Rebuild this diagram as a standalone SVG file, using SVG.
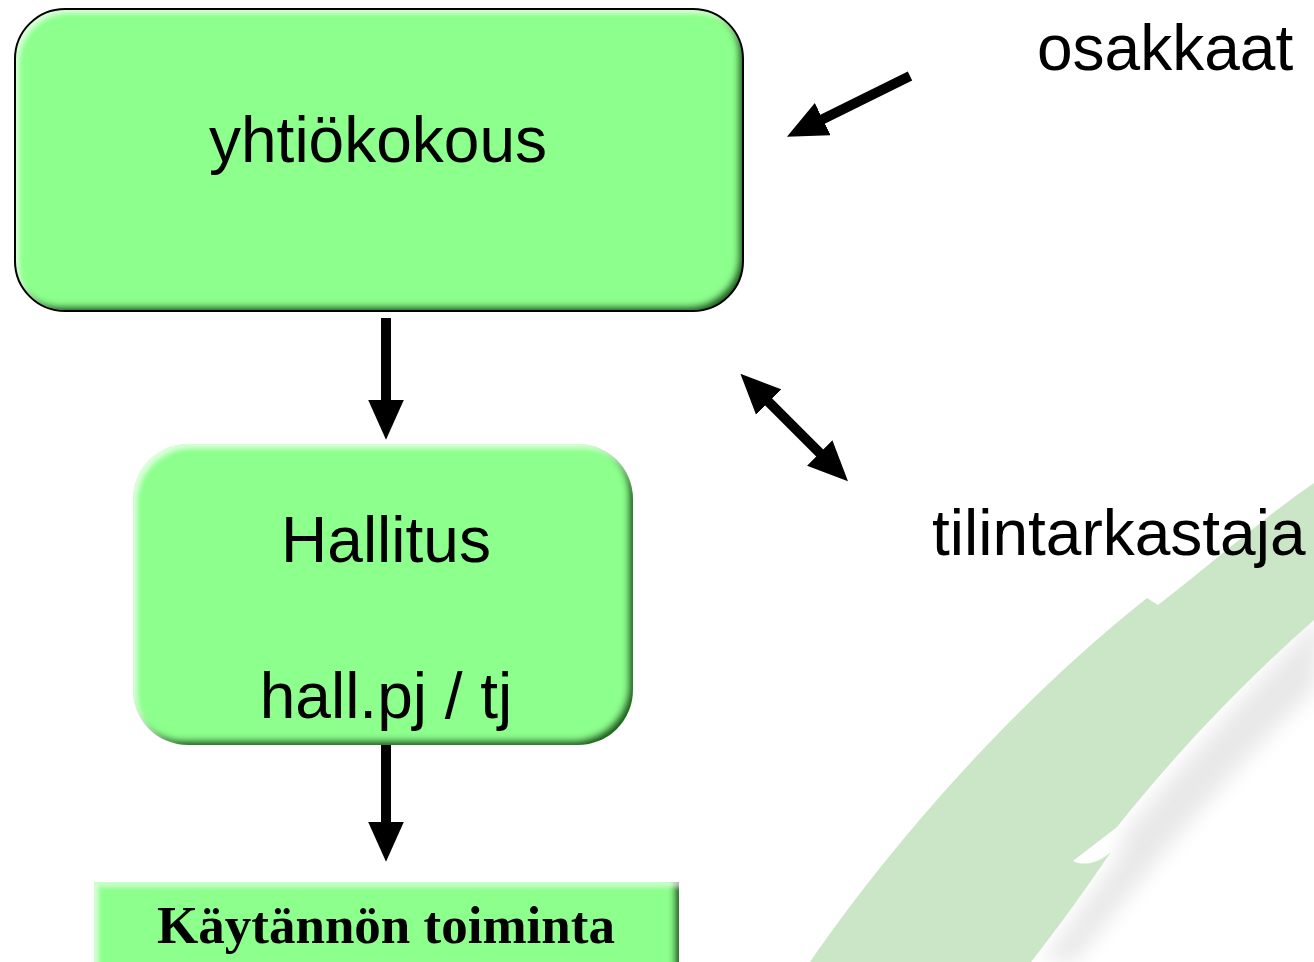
<svg xmlns="http://www.w3.org/2000/svg" width="1314" height="962" viewBox="0 0 1314 962">
<style>
.lbl{font-family:"Liberation Sans",Arial,sans-serif;font-size:64px;fill:#000}
.bold{font-family:"Liberation Serif","Times New Roman",serif;font-size:53px;font-weight:bold;fill:#000}
.box{fill:#8cff8c}
.conn{stroke:#000;stroke-width:10;fill:none}
</style>
<defs>
<filter id="bevel" x="-5%" y="-5%" width="110%" height="110%">
<feComponentTransfer in="SourceAlpha" result="inv"><feFuncA type="table" tableValues="1 0"/></feComponentTransfer>
<feOffset in="inv" dx="-5" dy="-5" result="invDR"/>
<feGaussianBlur in="invDR" stdDeviation="3" result="invDRb"/>
<feFlood flood-color="#1c5e1c" flood-opacity="1"/>
<feComposite operator="in" in2="invDRb" result="dark"/>
<feComposite in="dark" in2="SourceAlpha" operator="in" result="darkIn"/>
<feOffset in="inv" dx="4" dy="4" result="invUL"/>
<feGaussianBlur in="invUL" stdDeviation="2.5" result="invULb"/>
<feFlood flood-color="#ffffff" flood-opacity="0.6"/>
<feComposite operator="in" in2="invULb" result="light"/>
<feComposite in="light" in2="SourceAlpha" operator="in" result="lightIn"/>
<feMerge><feMergeNode in="SourceGraphic"/><feMergeNode in="darkIn"/><feMergeNode in="lightIn"/></feMerge>
</filter>
<filter id="soft" x="-20%" y="-20%" width="140%" height="140%"><feGaussianBlur stdDeviation="10"/></filter>
<marker id="ah" markerUnits="userSpaceOnUse" markerWidth="40" markerHeight="36" viewBox="0 0 38 34" refX="4" refY="17" orient="auto-start-reverse">
<path d="M0,0 L38,17 L0,34 Z" fill="#000"/>
</marker>
</defs>
<rect width="1314" height="962" fill="#fff"/>
<g id="background">
<path d="M1325,612 C1250,690 1180,765 1125,832 L1118,858 C1092,893 1066,930 1043,962 L1075,962 C1140,880 1230,770 1314,690 Z" fill="#d6d6d6" opacity="0.55" filter="url(#soft)"/>
<path d="M810,962 C880,860 1000,715 1147,598 L1158,605 C1210,565 1260,520 1314,483 L1314,620 C1240,685 1170,760 1117,827 L1073,861 C1085,867 1100,862 1111,852 C1085,890 1060,925 1031,962 Z" fill="#cbe6c6"/>
</g>
<g id="connectors">
<line class="conn" x1="386" y1="318" x2="386" y2="404" marker-end="url(#ah)"/>
<line class="conn" x1="386" y1="745" x2="386" y2="826" marker-end="url(#ah)"/>
<line class="conn" x1="910" y1="76" x2="819" y2="121" marker-end="url(#ah)"/>
<line class="conn" x1="765.7" y1="399" x2="822.7" y2="456" marker-start="url(#ah)" marker-end="url(#ah)"/>
</g>
<g id="yhtiokokous">
<rect class="box" x="15" y="9" width="728" height="302" rx="50" filter="url(#bevel)"/>
<rect x="15" y="9" width="728" height="302" rx="50" fill="none" stroke="#000" stroke-width="2"/>
<text class="lbl" x="378" y="162" text-anchor="middle">yhtiökokous</text>
</g>
<g id="hallitus">
<rect class="box" x="133" y="444" width="500" height="301" rx="55" filter="url(#bevel)"/>
<text class="lbl" x="386" y="562" text-anchor="middle">Hallitus</text>
<text class="lbl" x="386" y="718" text-anchor="middle">hall.pj / tj</text>
</g>
<g id="kaytannon">
<rect class="box" x="94" y="882" width="585" height="100" filter="url(#bevel)"/>
<text class="bold" x="386" y="943" text-anchor="middle">Käytännön toiminta</text>
</g>
<g id="osakkaat">
<text class="lbl" x="1037" y="70">osakkaat</text>
</g>
<g id="tilintarkastaja">
<text class="lbl" x="932" y="555">tilintarkastaja</text>
</g>
</svg>
